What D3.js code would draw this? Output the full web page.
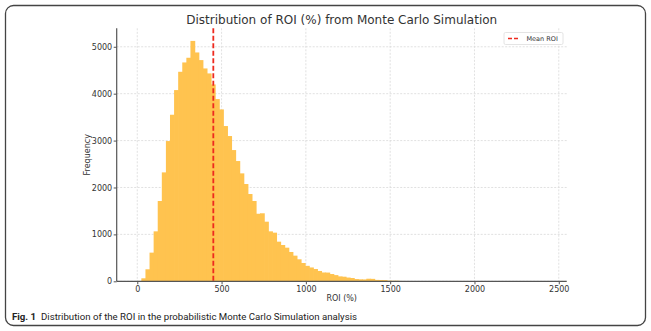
<!DOCTYPE html>
<html>
<head>
<meta charset="utf-8">
<script src="https://cdn.jsdelivr.net/npm/d3@7"></script>
<style>
body { margin: 0; background: #fff; }
svg { display: block; }
</style>
</head>
<body>
<svg id="chart"></svg>
<script>
var svgWidth = 651;
var svgHeight = 331;

// histogram: 100 equal bins from binStart to binEnd
var binStart = 0;
var binEnd = 2426;
var counts = [8, 64, 256, 611, 1065, 1712, 2322, 2990, 3551, 4077,
	4467, 4666, 4766, 5125, 4879, 4716, 4538, 4432, 4197, 3885,
	3665, 3310, 3097, 2798, 2564, 2301, 2074, 1861, 1712, 1440,
	1450, 1271, 1065, 1037, 845, 774, 717, 625, 547, 469,
	390, 330, 295, 262, 220, 188, 186, 155, 132, 105,
	98, 80, 70, 48, 42, 40, 55, 52, 30, 28,
	26, 14, 12, 12, 7, 6, 4, 3, 3, 2,
	2, 1, 1, 0, 1, 1, 0, 1, 0, 0,
	1, 0, 0, 1, 0, 0, 0, 1, 0, 0,
	0, 0, 1, 0, 0, 0, 0, 0, 0, 1];
var meanROI = 451;
var xTicks = [0, 500, 1000, 1500, 2000, 2500];
var yTicks = [0, 1000, 2000, 3000, 4000, 5000];

var plotLeft = 116.7, plotRight = 566.7, plotTop = 28.3, plotBottom = 281.3;
var binWidth = (binEnd - binStart) / counts.length;
var bins = counts.map((c, i) => ({x0: binStart + i * binWidth, x1: binStart + (i + 1) * binWidth, n: c}));

var xScale = d3.scaleLinear()
	.domain([-122, 2547])
	.range([plotLeft, plotRight]);
var yScale = d3.scaleLinear()
	.domain([0, 5394])
	.range([plotBottom, plotTop]);

var svg = d3.select('#chart')
	.attr('width', svgWidth)
	.attr('height', svgHeight)
	.style('font-family', 'DejaVu Sans');

// outer figure frame
svg.append('rect')
	.attr('x', 5.5).attr('y', 5.5)
	.attr('width', 640).attr('height', 320)
	.attr('rx', 8)
	.attr('fill', 'none')
	.attr('stroke', '#444')
	.attr('stroke-width', 1.3);

// grid
svg.append('g').selectAll('line')
	.data(xTicks)
	.join('line')
	.attr('x1', d => xScale(d)).attr('x2', d => xScale(d))
	.attr('y1', plotTop).attr('y2', plotBottom)
	.attr('stroke', '#d9d9d9')
	.attr('stroke-width', 0.8)
	.attr('stroke-dasharray', '2,1.5');
svg.append('g').selectAll('line')
	.data(yTicks)
	.join('line')
	.attr('x1', plotLeft).attr('x2', plotRight)
	.attr('y1', d => yScale(d)).attr('y2', d => yScale(d))
	.attr('stroke', '#d9d9d9')
	.attr('stroke-width', 0.8)
	.attr('stroke-dasharray', '2,1.5');

// bars
svg.append('g').selectAll('rect')
	.data(bins)
	.join('rect')
	.attr('x', d => xScale(d.x0))
	.attr('width', d => xScale(d.x1) - xScale(d.x0) + 0.7)
	.attr('y', d => yScale(d.n))
	.attr('height', d => yScale(0) - yScale(d.n))
	.attr('fill', '#ffc34f');

// mean line
svg.append('line')
	.attr('x1', xScale(meanROI)).attr('x2', xScale(meanROI))
	.attr('y1', plotTop).attr('y2', plotBottom)
	.attr('stroke', '#ee2a1f')
	.attr('stroke-width', 1.8)
	.attr('stroke-dasharray', '5,2.5');

// axes
var xAxis = d3.axisBottom(xScale).tickValues(xTicks).tickFormat(d3.format('d'))
	.tickSize(3).tickSizeOuter(0).tickPadding(2.5);
var yAxis = d3.axisLeft(yScale).tickValues(yTicks).tickFormat(d3.format('d'))
	.tickSize(3).tickSizeOuter(0).tickPadding(1.5);

var gx = svg.append('g')
	.attr('transform', `translate(0,${plotBottom})`)
	.call(xAxis);
gx.select('.domain').attr('d', `M${plotLeft},0H${plotRight}`);
var gy = svg.append('g')
	.attr('transform', `translate(${plotLeft},0)`)
	.call(yAxis);
gy.select('.domain').attr('d', `M0,${plotBottom}V${plotTop}`);

svg.selectAll('.domain').attr('stroke', '#555').attr('stroke-width', 1.2);
svg.selectAll('.tick line').attr('stroke', '#555');
svg.selectAll('.tick text')
	.attr('fill', '#333')
	.style('font-family', 'DejaVu Sans')
	.style('font-size', '8px');

// labels
svg.append('text')
	.attr('x', (plotLeft + plotRight) / 2)
	.attr('y', 24)
	.attr('text-anchor', 'middle')
	.attr('fill', '#333')
	.style('font-size', '12px')
	.text('Distribution of ROI (%) from Monte Carlo Simulation');
svg.append('text')
	.attr('x', (plotLeft + plotRight) / 2)
	.attr('y', 301)
	.attr('text-anchor', 'middle')
	.attr('fill', '#333')
	.style('font-size', '8px')
	.text('ROI (%)');
svg.append('text')
	.attr('transform', 'rotate(-90)')
	.attr('x', -(plotTop + plotBottom) / 2)
	.attr('y', 89.5)
	.attr('text-anchor', 'middle')
	.attr('fill', '#333')
	.style('font-size', '8px')
	.text('Frequency');

// legend
var lg = svg.append('g');
lg.append('rect')
	.attr('x', 504).attr('y', 32.5)
	.attr('width', 59).attr('height', 12)
	.attr('rx', 1.5)
	.attr('fill', '#fff')
	.attr('stroke', '#ddd')
	.attr('stroke-width', 0.8);
lg.append('line')
	.attr('x1', 508).attr('x2', 520)
	.attr('y1', 38.5).attr('y2', 38.5)
	.attr('stroke', '#ee2a1f')
	.attr('stroke-width', 1.6)
	.attr('stroke-dasharray', '4,2');
lg.append('text')
	.attr('x', 526.5).attr('y', 41)
	.attr('fill', '#333')
	.style('font-size', '6.5px')
	.text('Mean ROI');

// caption
var cap = svg.append('text')
	.attr('x', 12).attr('y', 320)
	.attr('fill', '#222')
	.style('font-family', 'Liberation Sans Narrow, Roboto, sans-serif')
	.style('font-size', '9px')
	.attr('textLength', 345)
	.attr('lengthAdjust', 'spacingAndGlyphs');
cap.append('tspan').style('font-weight', 'bold').text('Fig. 1');
cap.append('tspan').text('\u2002Distribution of the ROI in the probabilistic Monte Carlo Simulation analysis');
</script>
</body>
</html>
